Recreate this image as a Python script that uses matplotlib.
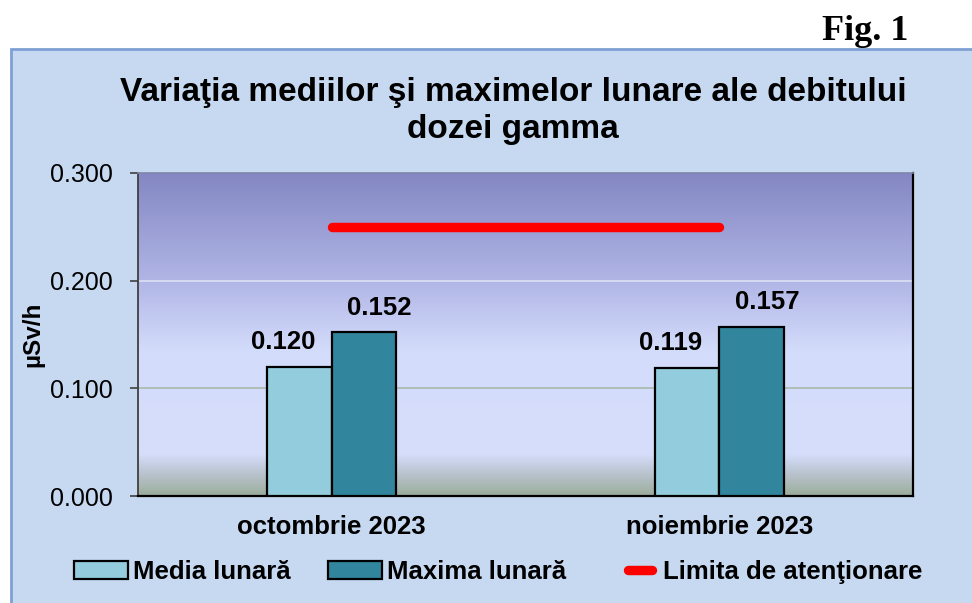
import matplotlib
matplotlib.use("Agg")
import matplotlib.pyplot as plt
import numpy as np
from matplotlib.patches import Rectangle, Patch
from matplotlib.lines import Line2D
from matplotlib.legend_handler import HandlerLine2D
from matplotlib.colors import LinearSegmentedColormap

categories = ["octombrie 2023", "noiembrie 2023"]
media = [0.120, 0.119]
maxima = [0.152, 0.157]
limita = [0.25, 0.25]
yticks = [0.0, 0.1, 0.2, 0.3]

plt.rcParams['font.family'] = ['Liberation Sans', 'DejaVu Sans']


class ShortLine(HandlerLine2D):
    def create_artists(self, legend, orig_handle, xdescent, ydescent, width, height,
                       fontsize, trans):
        nw = width * 0.45
        return super().create_artists(legend, orig_handle, xdescent - width + nw + 4,
                                      ydescent, nw, height, fontsize, trans)


fig = plt.figure(figsize=(9.72, 6.03), dpi=100)
fig.patch.set_facecolor('white')

# outer chart frame
frame = Rectangle((11/972, -0.01), 1.0, (603-49)/603 + 0.01, transform=fig.transFigure,
                  facecolor='#C6D9F1', edgecolor='#7EA0D4', linewidth=2, zorder=-10)
fig.patches.append(frame)

fig.text(908/972, 1-31/603, "Fig. 1", ha='right', va='center', fontsize=26,
         fontweight='bold', family=['Liberation Serif', 'DejaVu Serif'])

fig.text(513/972, 1-111/603, "Variaţia mediilor şi maximelor lunare ale debitului\ndozei gamma",
         ha='center', va='center', fontsize=24, fontweight='bold', linespacing=1.22)

ax = fig.add_axes([138/972, 1-496/603, (913-138)/972, (496-173)/603])
ax.set_zorder(2)
ax.set_facecolor('none')

# gradient plot area background
stops = [(0.0, '#9BAE9C'), (0.06, '#B6C0C8'), (0.13, '#D6DEFC'),
         (0.45, '#D4DCFB'), (0.67, '#B0B5E5'), (1.0, '#8487C3')]
cmap = LinearSegmentedColormap.from_list('bg', stops)
grad = np.linspace(0, 1, 256).reshape(-1, 1)
ax.imshow(grad, extent=[-0.5, 1.5, 0, 0.3], origin='lower', aspect='auto',
          cmap=cmap, zorder=0, interpolation='bicubic')

x = np.arange(len(categories))
w = 1/6
b1 = ax.bar(x - w/2, media, w, color='#93CDDD', edgecolor='black', linewidth=1.6,
            zorder=3, label='Media lunară')
b2 = ax.bar(x + w/2, maxima, w, color='#31859C', edgecolor='black', linewidth=1.6,
            zorder=3, label='Maxima lunară')
ax.plot(x, limita, color='#FF0000', linewidth=6.8, solid_capstyle='round', zorder=4,
        label='Limita de atenţionare')

for bars, vals, dx in ((b1, media, -12), (b2, maxima, 11)):
    for r, v in zip(bars, vals):
        ax.annotate(f"{v:.3f}", (r.get_x() + r.get_width()/2, v), xytext=(dx, 9),
                    textcoords='offset points', ha='center', va='bottom',
                    fontsize=18.5, fontweight='bold', zorder=5)

ax.set_xlim(-0.5, 1.5)
ax.set_ylim(0, 0.3)
ax.set_yticks(yticks)
ax.set_yticklabels([f"{t:.3f}" for t in yticks], fontsize=18)
ax.set_xticks(x)
ax.set_xticklabels(categories, fontsize=18.5, fontweight='bold')
ax.tick_params(axis='x', length=0, pad=14)
ax.tick_params(axis='y', length=6, width=1.2, color='#404040', pad=12)

for yv, col in ((0.1, '#A9B9AA'), (0.2, '#DCE0F4')):
    ax.axhline(yv, color=col, linewidth=1.2, zorder=1)

ax.spines['left'].set_color('#404040')
ax.spines['left'].set_linewidth(1.3)
ax.spines['bottom'].set_color('black')
ax.spines['bottom'].set_linewidth(1.6)
ax.spines['right'].set_color('black')
ax.spines['right'].set_linewidth(1.6)
ax.spines['top'].set_color('#7F86A8')
ax.spines['top'].set_linewidth(1.2)

ax.set_ylabel("µSv/h", fontsize=17.5, fontweight='bold', labelpad=4)

handles = [Patch(facecolor='#93CDDD', edgecolor='black', linewidth=1.6),
           Patch(facecolor='#31859C', edgecolor='black', linewidth=1.6),
           Line2D([0], [0], color='#FF0000', linewidth=6.8, solid_capstyle='round')]
labels = ['Media lunară', 'Maxima lunară', 'Limita de atenţionare']
leg = fig.legend(handles, labels, loc='center', bbox_to_anchor=(498/972, 1-572/603),
                 ncol=3, frameon=False, prop={'size': 18.5, 'weight': 'bold'},
                 handlelength=2.1, handleheight=0.75, handletextpad=0.2,
                 columnspacing=1.45, handler_map={Line2D: ShortLine()})

fig.savefig("out.png", dpi=100, facecolor=fig.get_facecolor())
